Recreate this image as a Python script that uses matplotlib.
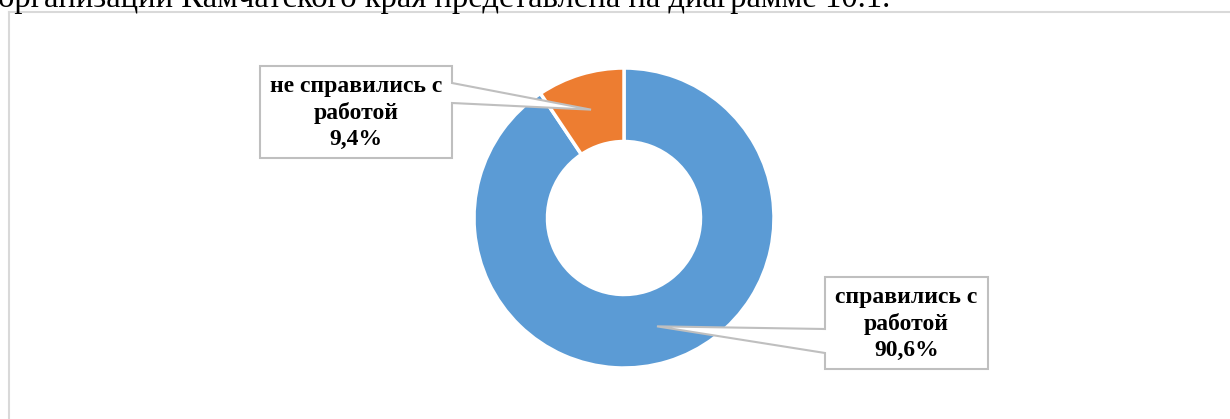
import numpy as np
import matplotlib
matplotlib.use("Agg")
import matplotlib.pyplot as plt
from matplotlib.patches import Polygon
from matplotlib.lines import Line2D

# data
categories = ['справились с работой', 'не справились с работой']
shares = [90.6, 9.4]
colors = ['#5B9BD5', '#ED7D31']
label_texts = ['справились с\nработой\n90,6%', 'не справились с\nработой\n9,4%']

W, H = 1230, 419
fig = plt.figure(figsize=(W / 100, H / 100), dpi=100)
fig.patch.set_facecolor('white')

# cut-off line of text above the chart
fig.text(-2 / W, (H - 7) / H, 'организации Камчатского края представлена на диаграмме 10.1.',
         fontsize=23.5, family='Liberation Serif', va='baseline', ha='left')

# chart frame (only top and left visible)
fig.add_artist(Line2D([9 / W, 1], [(H - 12) / H] * 2, transform=fig.transFigure,
                      color='#D9D9D9', lw=1.5))
fig.add_artist(Line2D([9 / W] * 2, [0, (H - 12) / H], transform=fig.transFigure,
                      color='#D9D9D9', lw=1.5))

# donut
cx, cy, R = 624, H - 218, 150
ax = fig.add_axes([(cx - R) / W, (cy - R) / H, 2 * R / W, 2 * R / H])
width = 0.49
wedges, _ = ax.pie(shares, colors=colors, startangle=90, counterclock=False,
                   radius=1, wedgeprops=dict(width=width, edgecolor='white', linewidth=2.5))
ax.set_xlim(-1, 1)
ax.set_ylim(-1, 1)
ax.set_aspect('equal')
ax.axis('off')

# label boxes in pixel coords (x, top, right, bottom) and callout base y's
boxes = [
    (825, 277, 988, 369, 'left', (329, 353)),
    (260, 66, 452, 158, 'right', (83, 103)),
]


def to_data(px, py):
    return (px - 624) / R, (218 - py) / R


for w, (x0, y0, x1, y1, side, base), txt in zip(wedges, boxes, label_texts):
    mid = np.deg2rad((w.theta1 + w.theta2) / 2)
    rm = 1 - width / 2
    tip = (rm * np.cos(mid), rm * np.sin(mid))
    if side == 'right':
        pts = [(x0, y0), (x1, y0), (x1, base[0]), None, (x1, base[1]), (x1, y1), (x0, y1)]
    else:
        pts = [(x0, y0), (x1, y0), (x1, y1), (x0, y1), (x0, base[1]), None, (x0, base[0])]
    verts = [tip if p is None else to_data(*p) for p in pts]
    ax.add_patch(Polygon(verts, closed=True, facecolor='white', edgecolor='#BFBFBF',
                         lw=1.5, clip_on=False, zorder=5))
    tx, ty = to_data((x0 + x1) / 2, (y0 + y1) / 2 + 1)
    ax.text(tx, ty, txt, ha='center', va='center', fontsize=17, fontweight='bold',
            family='Liberation Serif', linespacing=1.3, zorder=6, clip_on=False)

fig.savefig('out.png', dpi=100)
